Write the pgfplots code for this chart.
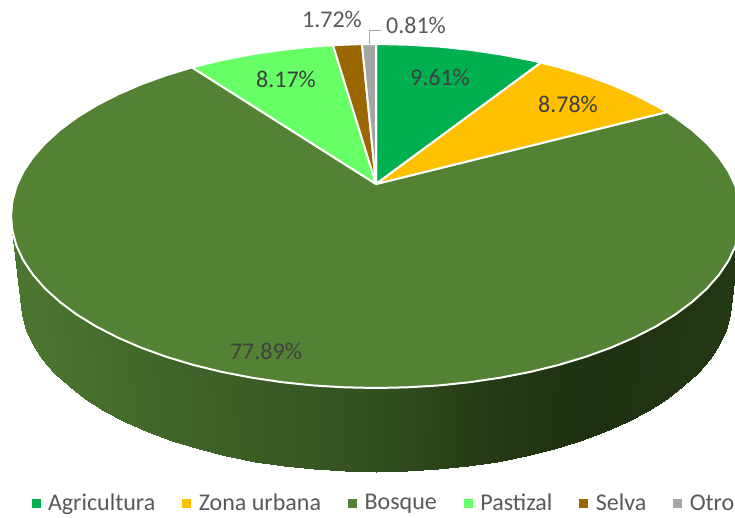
\documentclass[border=0pt]{standalone}
\usepackage{pgfplots}
\pgfplotsset{compat=1.18}
\usepackage{fontspec}
\setmainfont{Carlito}
\definecolor{cA}{HTML}{00B050}
\definecolor{cZ}{HTML}{FFC000}
\definecolor{cB}{HTML}{548235}
\definecolor{cP}{HTML}{66FF66}
\definecolor{cS}{HTML}{996600}
\definecolor{cO}{HTML}{A5A5A5}
\definecolor{tx}{HTML}{595959}
\definecolor{ti}{HTML}{404040}
\begin{document}
\begin{tikzpicture}
\useasboundingbox (0,0) rectangle (735pt,517pt);
\begin{axis}[
  scale only axis, width=735pt, height=517pt,
  xmin=0, xmax=735, ymin=0, ymax=517, y dir=reverse,
  axis lines=none, clip=true,
  colormap={side}{rgb255(0cm)=(30,50,17); rgb255(1cm)=(75,117,48)},
  point meta min=0, point meta max=1,
  every axis plot/.append style={forget plot},
  legend style={at={(axis cs:32,503)}, anchor=west, draw=none, fill=none,
    font=\fontsize{24}{26}\selectfont\color{tx}, inner sep=0pt, outer sep=0pt,
    legend columns=6,
    /tikz/every odd column/.append style={column sep=6pt},
    /tikz/every even column/.append style={column sep=25.5pt}},
]
% side wall
\addplot[surf, shader=interp, mesh/rows=38, mesh/cols=2, point meta=explicit, draw=none] table[meta=c] {
x y c
739.6 201 .10
729.7 285 .10
741 216 .10
731 300 .10
739.6 231 .10
729.7 315 .10
735.5 245.9 .10
725.6 329.9 .10
728.6 260.5 .10
718.9 344.5 .10
719 274.8 .08
709.6 358.8 .08
706.8 288.7 .07
697.6 372.7 .07
692.1 302 .06
683.4 386 .06
675 314.7 .05
666.8 398.7 .05
655.6 326.6 .03
648 410.6 .03
634.1 337.6 .02
627 421.6 .02
610.6 347.8 0
604 431.8 0
585.4 356.9 0
579.6 440.9 0
558.5 365 .02
553.5 449 .02
530.3 371.9 .06
526 455.9 .06
500.8 377.6 .12
497.4 461.6 .12
470.5 382.1 .18
467.9 466.1 .18
439.4 385.4 .27
437.6 469.4 .27
407.8 387.3 .36
407 471.3 .36
376 388 .45
376 472 .45
344.2 387.3 .50
345 471.3 .50
312.6 385.4 .55
314.4 469.4 .55
281.5 382.1 .60
284.1 466.1 .60
251.2 377.6 .64
254.6 461.6 .64
221.7 371.9 .68
226 455.9 .68
193.5 365 .72
198.5 449 .72
166.6 356.9 .76
172.4 440.9 .76
141.4 347.8 .80
148 431.8 .80
117.9 337.6 .84
125 421.6 .84
96.4 326.6 .88
104 410.6 .88
77 314.7 .92
85.2 398.7 .92
59.9 302 .95
68.6 386 .95
45.2 288.7 .98
54.4 372.7 .98
33 274.8 1
42.4 358.8 1
23.4 260.5 1
33.1 344.5 1
16.5 245.9 1
26.4 329.9 1
12.4 231 1
22.3 315 1
11 216 1
21 300 1
};
% top: Bosque
\addplot[fill=cB, draw=white, line width=2pt, line join=round] coordinates {
(376,184) (667,112) (675,117.3) (692.1,130) (706.8,143.3) (719,157.2) (728.6,171.5) (735.5,186.1) (739.6,201) (741,216)
(739.6,231) (735.5,245.9) (728.6,260.5) (719,274.8) (706.8,288.7) (692.1,302) (675,314.7) (655.6,326.6) (634.1,337.6) (610.6,347.8)
(585.4,356.9) (558.5,365) (530.3,371.9) (500.8,377.6) (470.5,382.1) (439.4,385.4) (407.8,387.3) (376,388)
(344.2,387.3) (312.6,385.4) (281.5,382.1) (251.2,377.6) (221.7,371.9) (193.5,365) (166.6,356.9) (141.4,347.8) (117.9,337.6) (96.4,326.6)
(77,314.7) (59.9,302) (45.2,288.7) (33,274.8) (23.4,260.5) (16.5,245.9) (12.4,231) (11,216)
(12.4,201) (16.5,186.1) (23.4,171.5) (33,157.2) (45.2,143.3) (59.9,130) (77,117.3) (96.4,105.4) (117.9,94.4) (141.4,84.2) (166.6,75.1) (192,67.4) (376,184)
};
% Agricultura
\addplot[fill=cA, draw=white, line width=2pt, line join=round] coordinates {
(376,184) (376,44) (407.8,44.7) (439.4,46.6) (470.5,49.9) (500.8,54.4) (530.3,60.1) (541,62.6) (376,184)
};
% Zona urbana
\addplot[fill=cZ, draw=white, line width=2pt, line join=round] coordinates {
(376,184) (541,62.6) (558.5,67) (585.4,75.1) (610.6,84.2) (634.1,94.4) (655.6,105.4) (667,112) (376,184)
};
% Pastizal
\addplot[fill=cP, draw=white, line width=2pt, line join=round] coordinates {
(376,184) (192,67.4) (221.7,60.1) (251.2,54.4) (281.5,49.9) (312.6,46.6) (333,45.2) (376,184)
};
% Selva
\addplot[fill=cS, draw=white, line width=2pt, line join=round] coordinates {
(376,184) (333,45.2) (344.2,44.7) (362,44.1) (376,184)
};
% Otro
\addplot[fill=cO, draw=white, line width=2pt, line join=round] coordinates {
(376,184) (362,44.1) (376,44) (376,184)
};
% leader
\addplot[draw=cO, line width=1pt] coordinates {(369,44) (369,30) (381,30)};
\addlegendimage{only marks, mark=square*, mark size=4pt, mark options={draw=cA, fill=cA, line width=0pt}}
\addlegendentry{Agricultura}
\addlegendimage{only marks, mark=square*, mark size=4pt, mark options={draw=cZ, fill=cZ, line width=0pt}}
\addlegendentry{Zona urbana}
\addlegendimage{only marks, mark=square*, mark size=4pt, mark options={draw=cB, fill=cB, line width=0pt}}
\addlegendentry{Bosque}
\addlegendimage{only marks, mark=square*, mark size=4pt, mark options={draw=cP, fill=cP, line width=0pt}}
\addlegendentry{Pastizal}
\addlegendimage{only marks, mark=square*, mark size=4pt, mark options={draw=cS, fill=cS, line width=0pt}}
\addlegendentry{Selva}
\addlegendimage{only marks, mark=square*, mark size=4pt, mark options={draw=cO, fill=cO, line width=0pt}}
\addlegendentry{Otro}
\tikzset{lab/.style={font=\fontsize{24}{26}\selectfont, inner sep=0pt}}
\node[lab, text=ti] at (axis cs:440,77) {9.61\%};
\node[lab, text=ti] at (axis cs:568,104) {8.78\%};
\node[lab, text=ti] at (axis cs:266,351) {77.89\%};
\node[lab, text=ti] at (axis cs:286,79) {8.17\%};
\node[lab, text=tx] at (axis cs:332,19) {1.72\%};
\node[lab, text=tx] at (axis cs:416,25) {0.81\%};
\end{axis}
\end{tikzpicture}
\end{document}
